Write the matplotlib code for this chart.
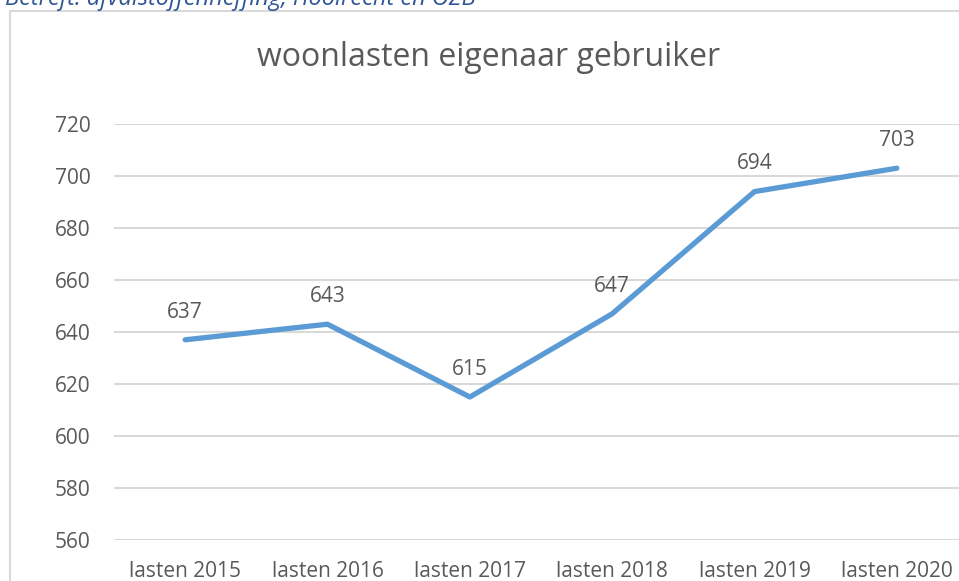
import matplotlib.pyplot as plt
from matplotlib.patches import Rectangle

# data
categories = ["lasten 2015", "lasten 2016", "lasten 2017",
              "lasten 2018", "lasten 2019", "lasten 2020"]
values = [637, 643, 615, 647, 694, 703]
yticks = [560, 580, 600, 620, 640, 660, 680, 700, 720]

LINE = "#5B9BD5"
TXT = "#595959"
GRID = "#D9D9D9"
plt.rcParams["font.family"] = ["Open Sans", "DejaVu Sans"]

fig = plt.figure(figsize=(9.59, 5.81), dpi=100)
ax = fig.add_axes([114 / 959, 41 / 581, 854 / 959, 416 / 581])

x = list(range(len(categories)))
ax.plot(x, values, color=LINE, linewidth=3.8, solid_capstyle="round", zorder=3)
for xi, v in zip(x, values):
    ax.annotate(str(v), (xi, v), xytext=(0, 20), textcoords="offset points",
                ha="center", va="center", fontsize=15, color=TXT)

ax.set_xlim(-0.5, 5.5)
ax.set_ylim(560, 720)
ax.set_yticks(yticks)
ax.set_xticks(x)
ax.set_xticklabels(categories)
ax.grid(axis="y", color=GRID, linewidth=1.5)
ax.set_axisbelow(True)
for s in ax.spines.values():
    s.set_visible(False)
ax.tick_params(axis="both", length=0, colors=TXT, labelsize=15)
ax.tick_params(axis="y", pad=17)
ax.tick_params(axis="x", pad=15)

fig.text(489 / 959, 1 - 57 / 581, "woonlasten eigenaar gebruiker",
         ha="center", va="center", fontsize=23, color=TXT)

# chart frame
fig.patches.append(Rectangle((9.5 / 959, -0.1), 1.2, 1.1 - 11 / 581,
                             transform=fig.transFigure, fill=False,
                             edgecolor=GRID, linewidth=1.5))

# cropped heading above the chart
fig.text(5 / 959, 1 - 5 / 581, "Betreft: afvalstoffenheffing, rioolrecht en OZB",
         ha="left", va="baseline", fontsize=17, style="italic", color="#2F5597")

fig.savefig("out.png", dpi=100)
